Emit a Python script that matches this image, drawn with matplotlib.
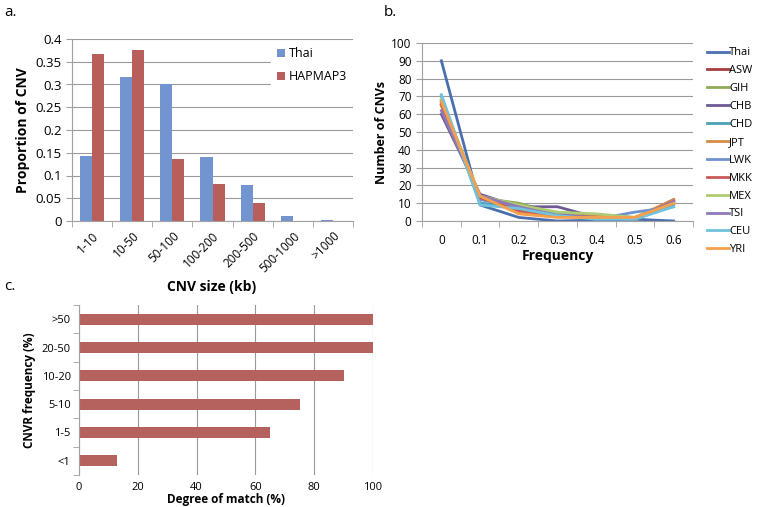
import numpy as np
import matplotlib
matplotlib.use("Agg")
import matplotlib.pyplot as plt
import matplotlib.transforms as mtransforms

plt.rcParams['font.family'] = ['Open Sans', 'DejaVu Sans']

# panel a: CNV size distribution
size_bins = ['1-10', '10-50', '50-100', '100-200', '200-500', '500-1000', '>1000']
thai_prop = [0.143, 0.317, 0.301, 0.140, 0.080, 0.012, 0.003]
hapmap_prop = [0.366, 0.375, 0.136, 0.082, 0.039, 0.0, 0.0]

# panel b: number of CNVs vs frequency per population
freq_labels = ['0', '0.1', '0.2', '0.3', '0.4', '0.5', '0.6']
populations = ['Thai', 'ASW', 'GIH', 'CHB', 'CHD', 'JPT', 'LWK', 'MKK', 'MEX', 'TSI', 'CEU', 'YRI']
pop_counts = {
    'Thai': [90, 9, 2, 0, 0.5, 1, 0],
    'ASW': [65, 14, 6, 3, 2, 1, 12],
    'GIH': [68, 13, 10, 4, 3, 2, 10],
    'CHB': [60, 15, 8, 8, 2, 1, 11],
    'CHD': [70, 10, 8, 4, 2, 1, 9],
    'JPT': [65, 14, 5, 3, 3, 2, 12],
    'LWK': [67, 12, 8, 4, 1, 5, 8],
    'MKK': [66, 13, 6, 3, 2, 1, 11],
    'MEX': [68, 14, 9, 5, 4, 2, 10],
    'TSI': [62, 14, 8, 3, 2, 1, 11],
    'CEU': [71, 9, 7, 3, 1, 1, 8],
    'YRI': [67, 14, 4, 2, 2, 2, 10],
}
pop_colors = ['#4A6FAF', '#A5403D', '#8FAA55', '#6E5A94', '#4BA0B5', '#D68B48',
              '#6E93CF', '#C85A55', '#AFCB73', '#8F7AB8', '#70C3DC', '#F5A04D']

# panel c: degree of match by CNVR frequency
cnvr_freq = ['<1', '1-5', '5-10', '10-20', '20-50', '>50']
match_pct = [13, 65, 75, 90, 100, 100]

GRID = '#9a9a9a'
SPINE = '#a0a0a0'

fig = plt.figure(figsize=(7.57, 5.07), dpi=100)
W, H = 757, 507


def box(x0, y0, x1, y1):
    return [x0 / W, 1 - y1 / H, (x1 - x0) / W, (y1 - y0) / H]


# ---- panel a ----
ax1 = fig.add_axes(box(72, 39, 353, 221))
x = np.arange(len(size_bins))
bw = 0.3
ax1.bar(x - bw / 2, thai_prop, bw, color='#7395CF', label='Thai', zorder=2)
ax1.bar(x + bw / 2, hapmap_prop, bw, color='#B85F5B', label='HAPMAP3', zorder=2)
ax1.set_xlim(-0.5, len(size_bins) - 0.5)
ax1.set_ylim(0, 0.4)
ax1.set_yticks(np.arange(0, 0.41, 0.05))
ax1.set_yticklabels(['0', '0.05', '0.1', '0.15', '0.2', '0.25', '0.3', '0.35', '0.4'])
ax1.yaxis.grid(True, color=GRID, lw=0.8, zorder=0)
ax1.set_xticks(x)
ax1.set_xticklabels(size_bins, rotation=45, ha='right', rotation_mode='anchor')
ax1.set_xticks(np.arange(-0.5, len(size_bins)), minor=True)
ax1.tick_params(axis='x', which='major', length=0, labelsize=8.5, pad=6)
ax1.tick_params(axis='x', which='minor', length=4, color=SPINE)
ax1.tick_params(axis='y', length=4, color=SPINE, labelsize=9.5)
for s in ['top', 'right']:
    ax1.spines[s].set_visible(False)
ax1.spines['left'].set_color(SPINE)
ax1.spines['bottom'].set_color(SPINE)
ax1.set_ylabel('Proportion of CNV', fontsize=10, fontweight='bold')
fig.text(212 / W, 1 - 287 / H, 'CNV size (kb)', fontsize=10, fontweight='bold',
         ha='center', va='center')
leg1 = ax1.legend(loc='upper right', bbox_to_anchor=(1.0, 0.99), frameon=True,
                  fontsize=9, handlelength=0.6, handleheight=0.6,
                  labelspacing=0.8, borderpad=0.5, handletextpad=0.3,
                  borderaxespad=0)
leg1.get_frame().set_facecolor('white')
leg1.get_frame().set_edgecolor('white')
leg1.get_frame().set_alpha(1)
leg1.get_frame().set_boxstyle('square', pad=0)

# ---- panel b ----
ax2 = fig.add_axes(box(422, 43, 693, 221))
xf = np.arange(len(freq_labels))
for pop, col in zip(populations, pop_colors):
    ax2.plot(xf, pop_counts[pop], color=col, lw=2, label=pop, zorder=2)
ax2.set_xlim(-0.5, len(freq_labels) - 0.5)
ax2.set_ylim(0, 100)
ax2.set_yticks(np.arange(0, 101, 10))
ax2.yaxis.grid(True, color=GRID, lw=0.8, zorder=0)
ax2.set_xticks(xf)
ax2.set_xticklabels(freq_labels)
ax2.set_xticks(np.arange(-0.5, len(freq_labels)), minor=True)
ax2.tick_params(axis='x', which='major', length=0, labelsize=8.5, pad=9)
ax2.tick_params(axis='x', which='minor', length=4, color=SPINE)
ax2.tick_params(axis='y', length=4, color=SPINE, labelsize=8.5)
for s in ['top', 'right']:
    ax2.spines[s].set_visible(False)
ax2.spines['left'].set_color(SPINE)
ax2.spines['bottom'].set_color(SPINE)
ax2.set_ylabel('Number of CNVs', fontsize=9, fontweight='bold', labelpad=2)
ax2.set_xlabel('Frequency', fontsize=10, fontweight='bold', labelpad=2)
leg2 = ax2.legend(loc='upper left', bbox_to_anchor=(1.035, 1.0), frameon=False,
                  fontsize=8, handlelength=2.0, labelspacing=0.62,
                  handletextpad=0.0, borderaxespad=0)
for ln in leg2.get_lines():
    ln.set_linewidth(2)

# ---- panel c ----
ax3 = fig.add_axes(box(79, 305, 373, 475))
yc = np.arange(len(cnvr_freq))
ax3.barh(yc, match_pct, height=0.38, color='#B5625E', zorder=2)
ax3.set_xlim(0, 100)
ax3.set_ylim(-0.5, len(cnvr_freq) - 0.5)
ax3.set_xticks(np.arange(0, 101, 20))
ax3.xaxis.grid(True, color=GRID, lw=0.8, zorder=0)
ax3.set_yticks(yc)
ax3.set_yticklabels(cnvr_freq)
shift = mtransforms.ScaledTranslation(0, -7 / 100, fig.dpi_scale_trans)
for lbl in ax3.get_yticklabels():
    lbl.set_transform(lbl.get_transform() + shift)
ax3.set_yticks(np.arange(-0.5, len(cnvr_freq)), minor=True)
ax3.tick_params(axis='y', which='major', length=0, labelsize=8, pad=6)
ax3.tick_params(axis='y', which='minor', length=4, color=SPINE)
ax3.tick_params(axis='x', length=0, labelsize=8, pad=5)
for s in ['top', 'right', 'bottom']:
    ax3.spines[s].set_visible(False)
ax3.spines['left'].set_color(SPINE)
ax3.set_ylabel('CNVR frequency (%)', fontsize=8.5, fontweight='bold', labelpad=4)
ax3.set_xlabel('Degree of match (%)', fontsize=8.5, fontweight='bold', labelpad=0)

# panel letters
fig.text(4 / W, 1 - 12 / H, 'a.', fontsize=11, va='center')
fig.text(384 / W, 1 - 12 / H, 'b.', fontsize=11, va='center')
fig.text(4 / W, 1 - 286 / H, 'c.', fontsize=11, va='center')

fig.savefig('out.png', dpi=100, facecolor='white')
